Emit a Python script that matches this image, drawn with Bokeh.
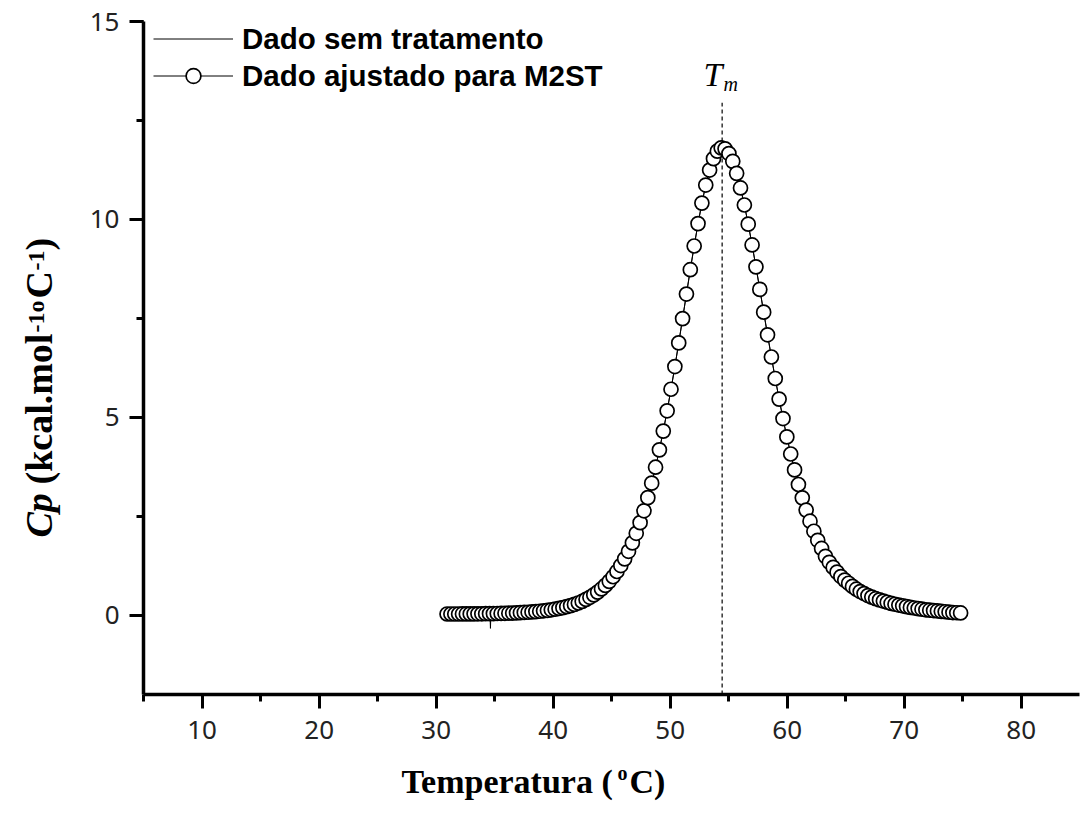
import math
from bokeh.plotting import figure
from bokeh.layouts import column, row
from bokeh.models import Range1d, SingleIntervalTicker, Legend, LegendItem
from bokeh.core.properties import value
from bokeh.embed import file_html
from bokeh.resources import INLINE

# ---------------- data ----------------
temperature = [30.93, 31.26, 31.59, 31.92, 32.25, 32.58, 32.91, 33.24, 33.57, 33.90,
               34.23, 34.56, 34.89, 35.22, 35.55, 35.88, 36.21, 36.54, 36.87, 37.20,
               37.53, 37.86, 38.19, 38.52, 38.85, 39.18, 39.51, 39.84, 40.17, 40.50,
               40.83, 41.16, 41.49, 41.82, 42.15, 42.48, 42.81, 43.14, 43.47, 43.80,
               44.13, 44.46, 44.79, 45.12, 45.45, 45.78, 46.11, 46.44, 46.77, 47.10,
               47.43, 47.76, 48.09, 48.42, 48.75, 49.08, 49.41, 49.74, 50.07, 50.40,
               50.73, 51.06, 51.39, 51.72, 52.05, 52.38, 52.71, 53.04, 53.37, 53.70,
               54.03, 54.36, 54.69, 55.02, 55.35, 55.68, 56.01, 56.34, 56.67, 57.00,
               57.33, 57.66, 57.99, 58.32, 58.65, 58.98, 59.31, 59.64, 59.97, 60.30,
               60.63, 60.96, 61.29, 61.62, 61.95, 62.28, 62.61, 62.94, 63.27, 63.60,
               63.93, 64.26, 64.59, 64.92, 65.25, 65.58, 65.91, 66.24, 66.57, 66.90,
               67.23, 67.56, 67.89, 68.22, 68.55, 68.88, 69.21, 69.54, 69.87, 70.20,
               70.53, 70.86, 71.19, 71.52, 71.85, 72.18, 72.51, 72.84, 73.17, 73.50,
               73.83, 74.16, 74.49, 74.82]

cp_fit = [0.033, 0.033, 0.034, 0.034, 0.035, 0.035, 0.036, 0.037, 0.038, 0.039,
          0.041, 0.042, 0.044, 0.046, 0.049, 0.051, 0.054, 0.058, 0.062, 0.067,
          0.072, 0.078, 0.086, 0.094, 0.103, 0.114, 0.126, 0.140, 0.155, 0.173,
          0.194, 0.218, 0.245, 0.276, 0.311, 0.351, 0.402, 0.455, 0.516, 0.586,
          0.666, 0.756, 0.858, 0.975, 1.107, 1.257, 1.426, 1.617, 1.831, 2.072,
          2.341, 2.640, 2.972, 3.339, 3.741, 4.180, 4.654, 5.166, 5.710, 6.284,
          6.881, 7.495, 8.115, 8.731, 9.329, 9.895, 10.413, 10.869, 11.248, 11.536,
          11.725, 11.807, 11.783, 11.664, 11.467, 11.164, 10.796, 10.365, 9.881, 9.356,
          8.803, 8.233, 7.658, 7.086, 6.525, 5.982, 5.462, 4.970, 4.507, 4.075,
          3.674, 3.305, 2.967, 2.658, 2.378, 2.124, 1.895, 1.689, 1.490, 1.340,
          1.210, 1.090, 0.980, 0.890, 0.810, 0.730, 0.660, 0.600, 0.550, 0.500,
          0.460, 0.420, 0.390, 0.360, 0.330, 0.300, 0.280, 0.260, 0.240, 0.220,
          0.200, 0.185, 0.170, 0.155, 0.140, 0.130, 0.120, 0.110, 0.100, 0.090,
          0.080, 0.070, 0.065, 0.060]

# glitch present only in the untreated (raw) data
glitch_temperature = [34.60, 34.64, 34.68]
glitch_cp = [0.042, -0.33, 0.043]

tm_value = 54.44
tm_line_top = 12.95

raw_pairs = sorted(zip(temperature + glitch_temperature, cp_fit + glitch_cp))
raw_temperature = [t for t, _ in raw_pairs]
raw_cp = [c for _, c in raw_pairs]

# ---------------- layout ----------------
X0, X1 = 4.99, 84.98
Y0, Y1 = -2.0, 15.0
W, H = 1080, 827
YLAB_W = 70            # strip holding the y title
XLAB_H = 67            # strip holding the x title
MAIN_W, MAIN_H = W - YLAB_W, H - XLAB_H
FL, FR, FT, FB = 143 - YLAB_W, 1, 21, 66
FW, FH = MAIN_W - FL - FR, MAIN_H - FT - FB


def px_x(px):
    return X0 + (px - 143) * (X1 - X0) / FW


def px_y(py):
    return Y1 - (py - FT) * (Y1 - Y0) / FH


SERIF = value("Liberation Serif")

p = figure(width=MAIN_W, height=MAIN_H, x_range=Range1d(X0, X1), y_range=Range1d(Y0, Y1),
           output_backend="svg", toolbar_location=None, title=None,
           min_border_left=FL, min_border_right=FR, min_border_top=FT, min_border_bottom=FB)
p.outline_line_color = None
p.xgrid.visible = False
p.ygrid.visible = False
p.background_fill_color = "white"
p.border_fill_color = "white"

p.xaxis.ticker = SingleIntervalTicker(interval=10, num_minor_ticks=2)
p.yaxis.ticker = SingleIntervalTicker(interval=5, num_minor_ticks=2)
for ax in (p.xaxis[0], p.yaxis[0]):
    ax.axis_line_width = 3.5
    ax.axis_line_color = "black"
    ax.major_tick_line_width = 3
    ax.minor_tick_line_width = 3
    ax.major_tick_line_color = "black"
    ax.minor_tick_line_color = "black"
    ax.major_tick_out = 14
    ax.major_tick_in = 0
    ax.minor_tick_out = 7
    ax.minor_tick_in = 0
    ax.major_label_text_font = "Noto Sans"
    ax.major_label_text_font_size = "26px"
    ax.major_label_text_color = "#222222"
p.xaxis.major_label_standoff = 12
p.yaxis.major_label_standoff = 10

# Tm dashed line
p.segment(x0=[tm_value], y0=[Y0], x1=[tm_value], y1=[tm_line_top],
          line_color="black", line_width=1.2, line_dash="4 3")

raw_r = p.line(raw_temperature, raw_cp, line_color="black", line_width=1)
fit_line = p.line(temperature, cp_fit, line_color="black", line_width=1)
fit_pts = p.scatter(temperature, cp_fit, marker="circle", size=14,
                    fill_color="white", line_color="black", line_width=1.7)

legend = Legend(items=[LegendItem(label="Dado sem tratamento", renderers=[raw_r]),
                       LegendItem(label="Dado ajustado para M2ST", renderers=[fit_line, fit_pts])],
                location=(10, 600), padding=0, margin=0, spacing=0,
                glyph_width=80, glyph_height=37, label_height=37, label_standoff=9,
                label_text_font="Liberation Sans", label_text_font_style="bold",
                label_text_font_size="29.5px", label_text_color="black",
                border_line_color=None, background_fill_alpha=0)
p.add_layout(legend)

# T_m label (inside the frame)
p.text(x=[px_x(703)], y=[px_y(74)], text=["T"], text_font=SERIF, text_font_style="italic",
       text_font_size="34px", text_baseline="middle", text_align="left", text_color="black")
p.text(x=[px_x(723)], y=[px_y(83)], text=["m"], text_font=SERIF, text_font_style="italic",
       text_font_size="20px", text_baseline="middle", text_align="left", text_color="black")


def strip(width, height, b_top=0, b_bottom=0):
    f = figure(width=width, height=height,
               x_range=Range1d(0, width), y_range=Range1d(b_bottom, height - b_top),
               output_backend="svg", toolbar_location=None, title=None,
               x_axis_location=None, y_axis_location=None,
               min_border_left=0, min_border_right=0,
               min_border_top=b_top, min_border_bottom=b_bottom)
    f.outline_line_color = None
    f.xgrid.visible = False
    f.ygrid.visible = False
    f.border_fill_color = "white"
    f.background_fill_color = "white"
    return f


# ---- y title strip: its frame matches the main frame vertically (py 21..694) ----
yfig = strip(YLAB_W, MAIN_H, b_top=FT, b_bottom=FB)
ang = math.pi / 2
MAIN_SZ, SUP_SZ = 38, 24
y_pieces = [  # text, baseline x, start py, size, style
    ("Cp", 52, 537, MAIN_SZ, "bold italic"),
    ("(kcal.mol", 52, 484, MAIN_SZ, "bold"),
    ("-1o", 44, 332, SUP_SZ, "bold"),
    ("C", 52, 298, MAIN_SZ, "bold"),
    ("-1", 44, 270, SUP_SZ, "bold"),
    (")", 52, 250, MAIN_SZ, "bold"),
]
for txt, bx, sy, sz, style in y_pieces:
    yfig.text(x=[bx - 0.35 * sz], y=[MAIN_H - sy], text=[txt], angle=ang,
              text_font=SERIF, text_font_style=style, text_font_size=f"{sz}px",
              text_baseline="middle", text_align="left", text_color="black")

# ---- x title strip ----
xfig = strip(W, XLAB_H)
x_pieces = [
    ("Temperatura (", 401, 793, 34),
    ("o", 617, 779, 20),
    ("C)", 629, 793, 34),
]
for txt, sx, by, sz in x_pieces:
    xfig.text(x=[sx], y=[H - (by - 0.35 * sz)], text=[txt],
              text_font=SERIF, text_font_style="bold", text_font_size=f"{sz}px",
              text_baseline="middle", text_align="left", text_color="black")

layout = column(row(yfig, p, spacing=0), xfig, spacing=0)
open("out.html", "w").write(file_html(layout, INLINE))
